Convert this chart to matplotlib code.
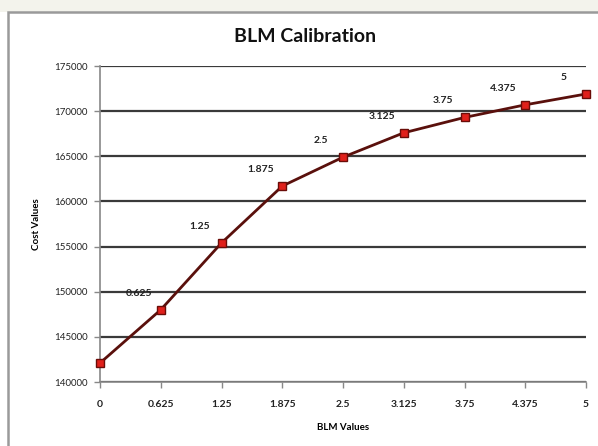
import matplotlib
matplotlib.use("Agg")
import matplotlib.pyplot as plt
import matplotlib.patches as patch

blm_labels = ["0", "0.625", "1.25", "1.875", "2.5", "3.125", "3.75", "4.375", "5"]
cost_values = [142100, 148000, 155400, 161700, 164900, 167600, 169300, 170700, 171900]
y_ticks = [140000, 145000, 150000, 155000, 160000, 165000, 170000, 175000]


def main():
    plt.rcParams['font.family'] = ['Lato', 'DejaVu Sans']
    fig = plt.figure(figsize=(5.98, 4.46), dpi=100)
    fig.patch.set_facecolor('white')

    # beige strip at top and grey chart frame
    fig.patches.append(patch.Rectangle((0, 1 - 12 / 446), 1, 12 / 446,
                                       transform=fig.transFigure,
                                       facecolor='#f3f3ec', edgecolor='none'))
    fig.patches.append(patch.Rectangle((8 / 598, -0.1), 1.1, 1.1 - 12 / 446,
                                       transform=fig.transFigure,
                                       facecolor='none', edgecolor='#9a9a9a',
                                       linewidth=1.8))

    ax = fig.add_axes([100 / 598, 1 - 382 / 446, 486 / 598, 316 / 446])
    xs = list(range(len(blm_labels)))

    for y in y_ticks:
        ax.axhline(y, color='#3a3a3a', linewidth=1.6, zorder=1)

    ax.plot(xs, cost_values, color='#5a100c', linewidth=2.0, zorder=3,
            marker='s', markersize=6, markerfacecolor='#e0201b',
            markeredgecolor='#6a0c08', markeredgewidth=1.0, clip_on=False)

    for x, y, lab in zip(xs[1:], cost_values[1:], blm_labels[1:]):
        ax.annotate(lab, (x, y), xytext=(-22, 12), textcoords='offset pixels',
                    ha='center', va='bottom', fontsize=7.5, fontweight='bold',
                    color='#222222')

    ax.set_xlim(0, len(blm_labels) - 1)
    ax.set_ylim(140000, 175000)
    ax.set_xticks(xs)
    ax.set_xticklabels(blm_labels, fontsize=7.5, fontweight='bold', color='#222222')
    ax.set_yticks(y_ticks)
    ax.set_yticklabels([str(v) for v in y_ticks], fontsize=7, color='#222222')
    ax.tick_params(axis='both', length=4, width=1, color='#888888')
    ax.tick_params(axis='x', pad=9)
    ax.tick_params(axis='y', pad=5)
    for side in ['top', 'right']:
        ax.spines[side].set_visible(False)
    for side in ['left', 'bottom']:
        ax.spines[side].set_color('#888888')
        ax.spines[side].set_linewidth(1.2)

    ax.set_xlabel("BLM Values", fontsize=7, fontweight='bold', labelpad=10)
    ax.set_ylabel("Cost Values", fontsize=7, fontweight='bold', labelpad=9)

    fig.text(0.51, 1 - 37 / 446, "BLM Calibration", ha='center', va='center',
             fontsize=14, fontweight='bold', color='#111111')

    fig.savefig("out.png", dpi=100)


if __name__ == '__main__':
    main()
